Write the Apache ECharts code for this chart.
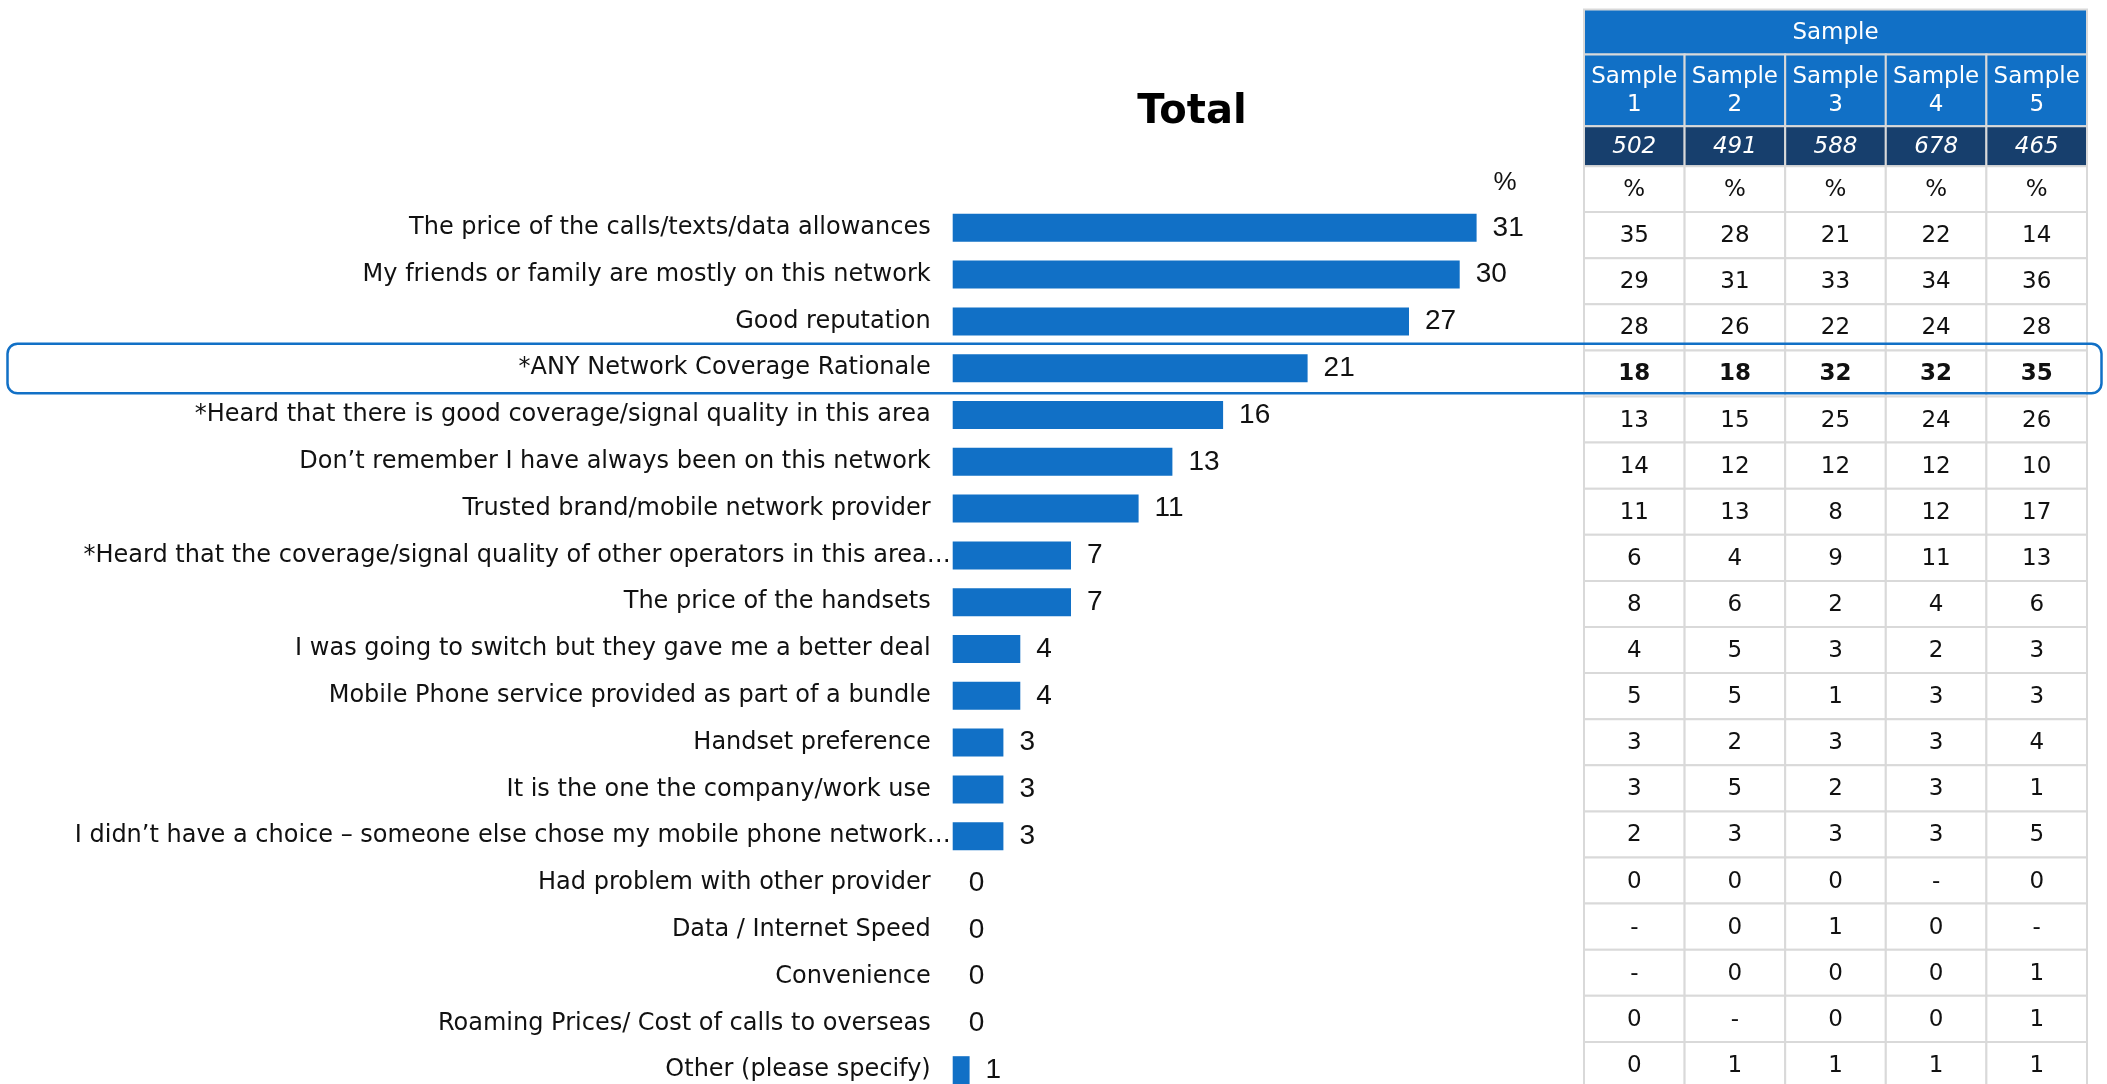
<!DOCTYPE html>
<html>
<head>
<meta charset="utf-8">
<script src="https://cdn.jsdelivr.net/npm/echarts@6/dist/echarts.min.js"></script>
<style>
  html, body { margin: 0; padding: 0; background: #ffffff; }
  #chart { width: 2107px; height: 1084px; }
</style>
</head>
<body>
<div id="chart"></div>
<script>
// Reasons for choosing the current mobile network
const categories = [
  'The price of the calls/texts/data allowances',
  'My friends or family are mostly on this network',
  'Good reputation',
  '*ANY Network Coverage Rationale',
  '*Heard that there is good coverage/signal quality in this area',
  'Don\u2019t remember I have always been on this network',
  'Trusted brand/mobile network provider',
  '*Heard that the coverage/signal quality of other operators in this area\u2026',
  'The price of the handsets',
  'I was going to switch but they gave me a better deal',
  'Mobile Phone service provided as part of a bundle',
  'Handset preference',
  'It is the one the company/work use',
  'I didn\u2019t have a choice \u2013 someone else chose my mobile phone network\u2026',
  'Had problem with other provider',
  'Data / Internet Speed',
  'Convenience',
  'Roaming Prices/ Cost of calls to overseas',
  'Other (please specify)'
];

// Total, %
const totalValues = [31, 30, 27, 21, 16, 13, 11, 7, 7, 4, 4, 3, 3, 3, 0, 0, 0, 0, 1];

// Per-sample breakdown, % ('-' = no response)
const sampleNames = ['Sample 1', 'Sample 2', 'Sample 3', 'Sample 4', 'Sample 5'];
const sampleSizes = [502, 491, 588, 678, 465];
const sample1 = ['35', '29', '28', '18', '13', '14', '11', '6', '8', '4', '5', '3', '3', '2', '0', '-', '-', '0', '0'];
const sample2 = ['28', '31', '26', '18', '15', '12', '13', '4', '6', '5', '5', '2', '5', '3', '0', '0', '0', '-', '1'];
const sample3 = ['21', '33', '22', '32', '25', '12', '8', '9', '2', '3', '1', '3', '2', '3', '0', '1', '0', '0', '1'];
const sample4 = ['22', '34', '24', '32', '24', '12', '12', '11', '4', '2', '3', '3', '3', '3', '-', '0', '0', '0', '1'];
const sample5 = ['14', '36', '28', '35', '26', '10', '17', '13', '6', '3', '3', '4', '1', '5', '0', '-', '1', '1', '1'];
const sampleColumns = [sample1, sample2, sample3, sample4, sample5];

// Row that gets the outlined emphasis
const highlightRow = 3;

const BLUE = '#1170c6';
const NAVY = '#173f6d';
const GRID_LINE = '#d9d9d9';
const TEXT = '#111111';
const TABLE_FONT = '"DejaVu Sans", Verdana, sans-serif';
const VALUE_FONT = '"Liberation Sans", Arial, sans-serif';

const bodyCells = [];
for (let r = 0; r < categories.length; r++) {
  for (let c = 0; c < sampleColumns.length; c++) bodyCells.push([c, r]);
}
const headerCells = sampleNames.map((_, c) => [c, 0]);

function renderBodyCell(params, api) {
  const col = api.value(0), row = api.value(1);
  const p = api.coord([col, row]);
  const sz = api.size([1, 1]);
  const w = sz[0], h = sz[1];
  return {
    type: 'group',
    children: [
      { type: 'rect', shape: { x: p[0] - w / 2, y: p[1] - h / 2, width: w, height: h },
        style: { fill: '#ffffff', stroke: GRID_LINE, lineWidth: 2 } },
      { type: 'text', x: p[0], y: p[1] + 1,
        style: { text: sampleColumns[col][row], align: 'center', verticalAlign: 'middle',
                 font: (row === highlightRow ? 'bold ' : '') + '23px ' + TABLE_FONT, fill: TEXT } }
    ]
  };
}

// Header block sits on top of the first body row
function renderHeaderCell(params, api) {
  const col = api.value(0);
  const p = api.coord([col, 0]);
  const sz = api.size([1, 1]);
  const w = sz[0], h = sz[1];
  const x0 = p[0] - w / 2;
  const top = p[1] - h / 2;
  const bands = [
    { y0: -202.6, y1: -157.6 },  // group title
    { y0: -157.6, y1: -85.9 },   // sample names
    { y0: -85.9, y1: -45.9 },    // base sizes
    { y0: -45.9, y1: 0 }         // unit row
  ];
  const children = [];
  const cell = (x, b, width, fill) => ({
    type: 'rect', shape: { x: x, y: top + b.y0, width: width, height: b.y1 - b.y0 },
    style: { fill: fill, stroke: GRID_LINE, lineWidth: 2 }
  });
  const label = (cx, b, text, font, fill, lh) => ({
    type: 'text', x: cx, y: top + (b.y0 + b.y1) / 2 + 1,
    style: { text: text, align: 'center', verticalAlign: 'middle', font: font, fill: fill, lineHeight: lh || null }
  });
  if (col === 0) {
    const span = w * sampleNames.length;
    children.push(cell(x0, bands[0], span, BLUE));
    children.push(label(x0 + span / 2, bands[0], 'Sample', '23px ' + TABLE_FONT, '#ffffff'));
  }
  children.push(cell(x0, bands[1], w, BLUE));
  children.push(label(p[0], bands[1], sampleNames[col].replace(' ', '\n'), '23px ' + TABLE_FONT, '#ffffff', 28));
  children.push(cell(x0, bands[2], w, NAVY));
  children.push(label(p[0], bands[2], String(sampleSizes[col]), 'italic 23px ' + TABLE_FONT, '#ffffff'));
  children.push(cell(x0, bands[3], w, '#ffffff'));
  children.push(label(p[0], bands[3], '%', '23px ' + TABLE_FONT, TEXT));
  return { type: 'group', children: children };
}

const chart = echarts.init(document.getElementById('chart'), null, { renderer: 'canvas' });

const unitMark = { type: 'text', x: 1505, y: 183,
  style: { text: '%', align: 'center', verticalAlign: 'middle', font: '26px ' + VALUE_FONT, fill: TEXT } };

const option = {
  animation: false,
  backgroundColor: '#ffffff',
  title: {
    text: 'Total',
    left: 1187,
    top: 88,
    textAlign: 'center',
    textStyle: { fontFamily: TABLE_FONT, fontWeight: 'bold', fontSize: 40, color: '#000000' }
  },
  grid: [
    { left: 952.7, top: 204.4, width: 676, height: 46.8 * categories.length,
      containLabel: false, outerBoundsMode: 'none' },
    { left: 1584, top: 212.1, width: 503, height: 46.1 * categories.length,
      containLabel: false, outerBoundsMode: 'none' }
  ],
  xAxis: [
    { gridIndex: 0, type: 'value', min: 0, max: 40, show: false },
    { gridIndex: 1, type: 'category', data: sampleNames, show: false }
  ],
  yAxis: [
    {
      gridIndex: 0, type: 'category', data: categories, inverse: true,
      axisLine: { show: false }, axisTick: { show: false }, splitLine: { show: false },
      axisLabel: {
        margin: 22,
        fontFamily: TABLE_FONT, fontSize: 24, color: TEXT,
        // clipped labels let their trailing ellipsis run past the label edge
        formatter: function (v) {
          return v.endsWith('\u2026') ? '{o|' + v + '}' : v;
        },
        rich: {
          o: { fontFamily: TABLE_FONT, fontSize: 24, color: TEXT, padding: [0, -20, 0, 0] }
        }
      }
    },
    { gridIndex: 1, type: 'category', data: categories, inverse: true, show: false }
  ],
  series: [
    {
      type: 'bar', xAxisIndex: 0, yAxisIndex: 0,
      data: totalValues, barWidth: 28,
      itemStyle: { color: BLUE },
      label: { show: true, position: 'right', distance: 16,
               fontFamily: VALUE_FONT, fontSize: 28, color: TEXT }
    },
    {
      type: 'custom', xAxisIndex: 1, yAxisIndex: 1, clip: false,
      data: bodyCells, renderItem: renderBodyCell, z: 3
    },
    {
      type: 'custom', xAxisIndex: 1, yAxisIndex: 1, clip: false,
      data: headerCells, renderItem: renderHeaderCell, z: 3
    }
  ],
  graphic: [unitMark]
};

chart.setOption(option);

// Outline around the emphasised row, spanning chart and table
const rowCenter = chart.convertToPixel({ gridIndex: 0 }, [0, highlightRow])[1];
chart.setOption({
  graphic: [
    unitMark,
    { type: 'rect', z: 100,
      shape: { x: 7.5, y: rowCenter - 24.5, width: 2094, height: 49.5, r: 10 },
      style: { fill: 'none', stroke: BLUE, lineWidth: 2.5 } }
  ]
});
</script>
</body>
</html>
